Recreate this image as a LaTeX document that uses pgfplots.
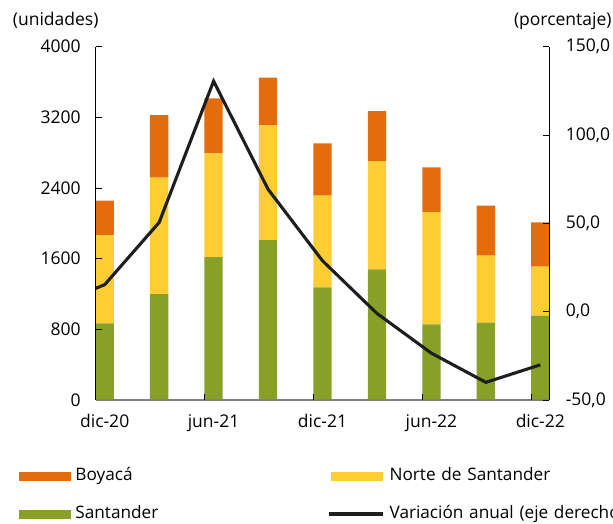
\documentclass[border=0pt]{standalone}
\usepackage{fontspec}
\setmainfont{Open Sans}
\usepackage{pgfplots}
\usepackage{pgfplotstable}
\pgfplotsset{compat=1.18}
\definecolor{boy}{HTML}{E46C0A}
\definecolor{nor}{HTML}{FDCD33}
\definecolor{san}{HTML}{88A028}
\definecolor{lin}{HTML}{1E1E1E}
\definecolor{axgray}{HTML}{808080}
\newcommand{\ff}{\fontsize{17.5pt}{21pt}\selectfont}
\newcommand{\lf}{\fontsize{17.2pt}{21pt}\selectfont}

\pgfplotstableread{
x S N B
0 868 996 392
1 1200 1317 709
2 1619 1173 623
3 1811 1298 540
4 1275 1038 592
5 1479 1226 566
6 857 1271 506
7 875 759 566
8 954 555 502
}\bars

\pgfplotstableread{
x v
-0.165 13.2
0 15.3
1 50.5
2 130.5
3 69.3
4 28.8
5 -1.0
6 -23.5
7 -40.0
8 -30.1
}\var

\begin{document}
\begin{tikzpicture}[font=\ff]
\pgfplotsset{
  base/.style={
    scale only axis, width=453.6pt, height=353.3pt,
    xmin=-0.165, xmax=8.165,
    tick align=inside, major tick length=6pt,
    tick style={black, line width=0.9pt},
    /pgf/number format/assume math mode=true,
    tick label style={font=\ff},
  }
}
\begin{axis}[base,
  axis on top,
  axis x line*=bottom, axis y line*=left,
  x axis line style={draw=axgray, line width=1.6pt},
  y axis line style={draw=black, line width=1.1pt},
  ymin=0, ymax=4000, ytick={0,800,...,4000},
  /pgf/number format/1000 sep={},
  yticklabel style={xshift=-11.5pt},
  xtick={0,2,4,6,8}, xticklabels={dic-20,jun-21,dic-21,jun-22,dic-22},
  xticklabel style={yshift=-11pt},
  xtick style={draw=none},
  extra x ticks={1.835,3.835,5.835,7.835}, extra x tick labels={},
  extra x tick style={xtick style={draw=black}},
  ybar stacked, bar width=18.3pt,
  legend columns=2, legend cell align=left,
  legend style={draw=none, fill=none, inner sep=0pt, outer sep=0pt,
    at={(-0.1691,-0.1896)}, anchor=north west,
    nodes={inner sep=0pt, text height=14pt, text depth=4pt, text width=252pt, align=left, font=\lf},
    /tikz/every odd column/.append style={column sep=5pt},
    row sep=20pt},
]
\addlegendimage{legend image code/.code={\fill[boy] (0pt,-4.2pt) rectangle (51pt,4.2pt);}}
\addlegendentry{Boyacá}
\addlegendimage{legend image code/.code={\fill[nor] (0pt,-4.2pt) rectangle (51pt,4.2pt);}}
\addlegendentry{Norte de Santander}
\addlegendimage{legend image code/.code={\fill[san] (0pt,-4.2pt) rectangle (51pt,4.2pt);}}
\addlegendentry{Santander}
\addlegendimage{legend image code/.code={\draw[lin, line width=3.2pt] (-2pt,0pt) -- (52pt,0pt);}}
\addlegendentry{Variación anual (eje derecho)}
\addplot[fill=san, draw=none] table[x=x,y=S]{\bars};
\addplot[fill=nor, draw=none] table[x=x,y=N]{\bars};
\addplot[fill=boy, draw=none] table[x=x,y=B]{\bars};
\end{axis}
\begin{axis}[base,
  axis y line*=right, axis x line=none,
  y axis line style={draw=black, line width=1.1pt},
  ymin=-50, ymax=150, ytick={-50,0,...,150},
  yticklabel={\pgfmathprintnumber[fixed,fixed zerofill,precision=1,use comma]{\tick}},
  yticklabel style={xshift=13pt},
]
\addplot[lin, line width=3.1pt, no markers] table[x=x,y=v]{\var};
\end{axis}
\node[anchor=base west, inner sep=0pt] at (-83pt,374pt) {(unidades)};
\node[anchor=base east, inner sep=0pt] at (516pt,374pt) {(porcentaje)};
\pgfresetboundingbox
\useasboundingbox (-95.7pt,-123pt) rectangle (517.3pt,400pt);
\end{tikzpicture}
\end{document}
